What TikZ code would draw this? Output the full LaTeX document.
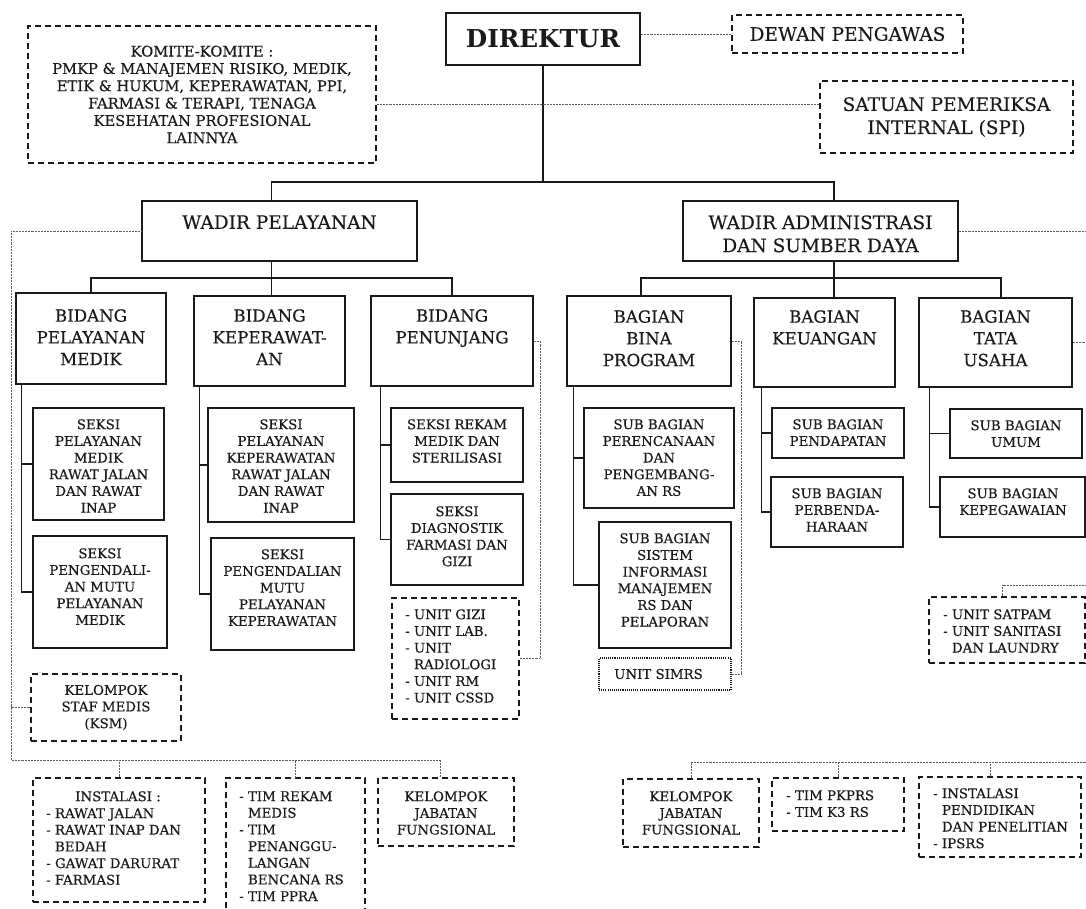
\documentclass[tikz,border=0pt]{standalone}
\usepackage{fontspec}
\setmainfont{DejaVu Serif}[UprightFeatures={FakeBold=0.3}]
\usetikzlibrary{fit,calc}
\definecolor{ink}{HTML}{1A1A1A}
\definecolor{dotc}{HTML}{5E5E5E}
\newcommand\bx[4]{\node[#1, fit={(#3) (#4)}] (#2) {};}
\begin{document}
\begin{tikzpicture}[x=0.75pt,y=-0.75pt,
 sbox/.style={draw=ink, line width=1.1pt, inner sep=0pt},
 dbox/.style={draw=ink, line width=1.2pt, dash pattern=on 4.5pt off 3pt, inner sep=0pt},
 obox/.style={draw=ink, line width=1pt, dash pattern=on 0.8pt off 0.8pt, inner sep=0pt},
 con/.style={draw=ink, line width=1.1pt},
 dcon/.style={draw=dotc, line width=0.7pt, dash pattern=on 0.55pt off 0.55pt},
 fD/.style={font=\fontsize{18.5}{21}\selectfont\bfseries, inner sep=0pt, text=ink},
 fA/.style={font=\fontsize{13.9}{17.3}\selectfont, align=center, inner sep=0pt, text=ink},
 fB/.style={font=\fontsize{12.5}{16.3}\selectfont, align=center, inner sep=0pt, text=ink, anchor=north},
 fK/.style={font=\fontsize{11}{13}\selectfont, align=center, inner sep=0pt, text=ink},
 fS/.style={font=\fontsize{10}{12.5}\selectfont, align=center, inner sep=0pt, text=ink, anchor=north},
 fL/.style={font=\fontsize{10}{12.5}\selectfont, align=left, inner sep=0pt, text=ink, anchor=north west},
]
\fill[white] (0,0) rectangle (1086,908);
\useasboundingbox (0,0) rectangle (1086,908);

% ---------- boxes ----------
\bx{sbox}{dir}{446,13}{640,65}
\bx{dbox}{dew}{732,15}{963,53}
\bx{dbox}{kom}{28,26}{376,163}
\bx{dbox}{spi}{820,81}{1073,153}
\bx{sbox}{wp}{142,201}{417,261}
\bx{sbox}{wa}{683,201}{958,261}
\bx{sbox}{bpm}{16,293}{166,384}
\bx{sbox}{bk}{194,296}{345,386}
\bx{sbox}{bpn}{371,296}{533,386}
\bx{sbox}{bbp}{567,296}{731,386}
\bx{sbox}{bkeu}{754,298}{895,387}
\bx{sbox}{btu}{919,298}{1072,387}
\bx{sbox}{s1}{33,408}{164,520}
\bx{sbox}{s2}{33,536}{167,648}
\bx{sbox}{s3}{208,408}{354,522}
\bx{sbox}{s4}{211,538}{354,650}
\bx{sbox}{s5}{391,408}{523,482}
\bx{sbox}{s6}{391,494}{523,585}
\bx{dbox}{unit}{392,598}{519,719}
\bx{dbox}{ksm}{31,674}{181,741}
\bx{sbox}{b1}{584,408}{734,508}
\bx{sbox}{b2}{599,522}{731,648}
\bx{obox}{simrs}{599,658}{731,690}
\bx{sbox}{k1}{772,408}{904,458}
\bx{sbox}{k2}{771,477}{903,547}
\bx{sbox}{t1}{950,409}{1082,458}
\bx{sbox}{t2}{940,477}{1085,537}
\bx{dbox}{sat}{929,597}{1085,663}
\bx{dbox}{ins}{33,778}{205,902}
\node[inner sep=0pt, fit={(226,778) (365,908)}] (tim) {};
\draw[draw=ink, line width=1.2pt, dash pattern=on 4.5pt off 3pt] (tim.south west) -- (tim.north west) -- (tim.north east) -- (tim.south east);
\bx{dbox}{kj1}{378,778}{514,846}
\bx{dbox}{kj2}{623,779}{759,847}
\bx{dbox}{pk}{772,778}{904,831}
\bx{dbox}{ip}{919,777}{1081,857}

% ---------- texts ----------
\node[fD] (dirT) at (dir.center) {DIREKTUR};
\node[fA] (dewT) at (dew.center) {DEWAN PENGAWAS};
\node[fA] (spiT) at (spi.center) {SATUAN PEMERIKSA\\INTERNAL (SPI)};
\node[fK] (komT) at (kom.center) {KOMITE-KOMITE :\\PMKP \& MANAJEMEN RISIKO, MEDIK,\\ETIK \& HUKUM, KEPERAWATAN, PPI,\\FARMASI \& TERAPI, TENAGA\\KESEHATAN PROFESIONAL\\LAINNYA};
\node[fA, anchor=north] (wpT) at (279.5,215) {WADIR PELAYANAN};
\node[fA, anchor=north] (waT) at (820.5,215) {WADIR ADMINISTRASI\\DAN SUMBER DAYA};

\node[fB] (bpmT) at (91,309) {BIDANG\\PELAYANAN\\MEDIK};
\node[fB] (bkT) at (269.5,309) {BIDANG\\KEPERAWAT-\\AN};
\node[fB] (bpnT) at (452,309) {BIDANG\\PENUNJANG};
\node[fB] (bbpT) at (649,310) {BAGIAN\\BINA\\PROGRAM};
\node[fB] (bkeuT) at (824.5,310) {BAGIAN\\KEUANGAN};
\node[fB] (btuT) at (995.5,310) {BAGIAN\\TATA\\USAHA};

\node[fS] (s1T) at (98.5,419) {SEKSI\\PELAYANAN\\MEDIK\\RAWAT JALAN\\DAN RAWAT\\INAP};
\node[fS] (s2T) at (100,548) {SEKSI\\PENGENDALI-\\AN MUTU\\PELAYANAN\\MEDIK};
\node[fS] (s3T) at (281,419) {SEKSI\\PELAYANAN\\KEPERAWATAN\\RAWAT JALAN\\DAN RAWAT\\INAP};
\node[fS] (s4T) at (282.5,549) {SEKSI\\PENGENDALIAN\\MUTU\\PELAYANAN\\KEPERAWATAN};
\node[fS] (s5T) at (457,419) {SEKSI REKAM\\MEDIK DAN\\STERILISASI};
\node[fS] (s6T) at (457,506) {SEKSI\\DIAGNOSTIK\\FARMASI DAN\\GIZI};
\node[fL] (unitT) at (405,609) {- UNIT GIZI\\- UNIT LAB.\\- UNIT\\\phantom{-}\ RADIOLOGI\\- UNIT RM\\- UNIT CSSD};
\node[fS, anchor=center] (ksmT) at (ksm.center) {KELOMPOK\\STAF MEDIS\\(KSM)};

\node[fS] (b1T) at (659,419) {SUB BAGIAN\\PERENCANAAN\\DAN\\PENGEMBANG-\\AN RS};
\node[fS] (b2T) at (665,533) {SUB BAGIAN\\SISTEM\\INFORMASI\\MANAJEMEN\\RS DAN\\PELAPORAN};
\node[fL, anchor=west] (simrsT) at (614,674) {UNIT SIMRS};
\node[fS] (k1T) at (838,419) {SUB BAGIAN\\PENDAPATAN};
\node[fS] (k2T) at (837,488) {SUB BAGIAN\\PERBENDA-\\HARAAN};
\node[fS] (t1T) at (1016,420) {SUB BAGIAN\\UMUM};
\node[fS] (t2T) at (1013,488) {SUB BAGIAN\\KEPEGAWAIAN};
\node[fL] (satT) at (943,609) {- UNIT SATPAM\\- UNIT SANITASI\\\phantom{-}\ DAN LAUNDRY};

\node[fS] (insH) at (118,791) {INSTALASI :};
\node[fL] (insT) at (46,808) {- RAWAT JALAN\\- RAWAT INAP DAN\\\phantom{-}\ BEDAH\\- GAWAT DARURAT\\- FARMASI};
\node[fL] (timT) at (239,791) {- TIM REKAM\\\phantom{-}\ MEDIS\\- TIM\\\phantom{-}\ PENANGGU-\\\phantom{-}\ LANGAN\\\phantom{-}\ BENCANA RS\\- TIM PPRA};
\node[fS] (kj1T) at (446,791) {KELOMPOK\\JABATAN\\FUNGSIONAL};
\node[fS] (kj2T) at (691,791) {KELOMPOK\\JABATAN\\FUNGSIONAL};
\node[fL] (pkT) at (786,790) {- TIM PKPRS\\- TIM K3 RS};
\node[fL] (ipT) at (933,788) {- INSTALASI\\\phantom{-}\ PENDIDIKAN\\\phantom{-}\ DAN PENELITIAN\\- IPSRS};

% ---------- solid connectors ----------
\coordinate (busT) at (543,182);
\draw[con] (dir.south) -- (busT);
\draw[con] ([xshift=-6pt]wp.north) |- (busT) -| ([xshift=10pt]wa.north);
\coordinate (busP) at (271.5,278);
\coordinate (wpd) at ([xshift=-6pt]wp.south);
\draw[con] (wpd) -- (wpd |- bk.north);
\draw[con] (bpm.north) |- (busP) -| (bpn.north);
\coordinate (busA) at (834,278);
\coordinate (wad) at ([xshift=10pt]wa.south);
\draw[con] (wad) -- (wad |- bkeu.north);
\draw[con] ([xshift=-6pt]bbp.north) |- (busA) -| ([xshift=4pt]btu.north);

\coordinate (v1) at ([xshift=4.5pt]bpm.south west);
\draw[con] (v1) |- (s2.west); \draw[con] (v1 |- s1.west) -- (s1.west);
\coordinate (v2) at ([xshift=4.5pt]bk.south west);
\draw[con] (v2) |- (s4.west); \draw[con] (v2 |- s3.west) -- (s3.west);
\coordinate (v3) at ([xshift=7.5pt]bpn.south west);
\draw[con] (v3) |- (s6.west); \draw[con] (v3 |- s5.west) -- (s5.west);
\coordinate (v4) at ([xshift=5.25pt]bbp.south west);
\draw[con] (v4) |- (b2.west); \draw[con] (v4 |- b1.west) -- (b1.west);
\coordinate (v5) at ([xshift=6pt]bkeu.south west);
\draw[con] (v5) |- (k2.west); \draw[con] (v5 |- k1.west) -- (k1.west);
\coordinate (v6) at ([xshift=8.25pt]btu.south west);
\draw[con] (v6) |- (t2.west); \draw[con] (v6 |- t1.west) -- (t1.west);

% ---------- dotted connectors ----------
\draw[dcon] (dir.east |- dew.west) -- (dew.west);
\coordinate (kd) at ([yshift=-7.1pt]kom.east);
\draw[dcon] (kd) -- (spi.west |- kd);
\coordinate (lc) at (11,760);
\draw[dcon] (wp.west) -| (lc) -| ([xshift=-4.5pt]kj1.north);
\draw[dcon] (ksm.west) -- (ksm.west -| lc);
\draw[dcon] (ins.north) -- (ins.north |- lc);
\draw[dcon] (tim.north) -- (tim.north |- lc);
\coordinate (rx1) at (540,0);
\draw[dcon] (bpn.east) -| (rx1 |- unit.east) -- (unit.east);
\coordinate (rx2) at (741,0);
\draw[dcon] (bbp.east) -| (rx2 |- simrs.east) -- (simrs.east);
\coordinate (edge) at (1086,0);
\draw[dcon] (wa.east) -- (wa.east -| edge);
\draw[dcon] (btu.east) -- (btu.east -| edge);
\coordinate (r585) at (1086,585);
\draw[dcon] ([xshift=-3.75pt]sat.north) |- (r585);
\coordinate (r762) at (1086,762);
\draw[dcon] (kj2.north) |- (r762);
\draw[dcon] (pk.north) -- (pk.north |- r762);
\coordinate (ipd) at ([xshift=-7.5pt]ip.north);
\draw[dcon] (ipd) -- (ipd |- r762);
\end{tikzpicture}
\end{document}
